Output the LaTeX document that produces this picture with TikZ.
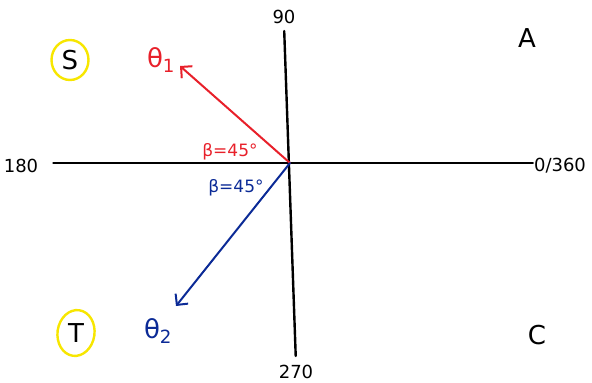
\documentclass[tikz,border=0pt]{standalone}
\usepackage{fontspec}
\setmainfont{DejaVu Sans}
\usetikzlibrary{shapes.geometric, arrows.meta, positioning}
\definecolor{penred}{HTML}{E8202A}
\definecolor{penblue}{HTML}{0B2A96}
\definecolor{marker}{HTML}{F7E600}
\tikzstyle{axis} = [line width=2.4pt, black, line cap=round]
\tikzstyle{deg}  = [font=\fontsize{18}{18}\selectfont, inner sep=1pt]
\tikzstyle{quad} = [font=\fontsize{26}{26}\selectfont, inner sep=1pt]
\tikzstyle{ring} = [ellipse, draw=marker, line width=2.4pt, minimum width=37pt, minimum height=40pt]
\tikzstyle{ray}  = [line width=2pt, line cap=round, -{Straight Barb[length=8pt,width=16pt,line width=2pt]}]
\tikzstyle{angl} = [font=\fontsize{17}{17}\selectfont, inner sep=1pt]

\begin{document}
\begin{tikzpicture}[x=1pt, y=-1pt]
  \useasboundingbox (0,0) rectangle (592,383);
  \coordinate (o) at (290,163);
  \node (d90)  [deg] at (284,17)  {90};
  \node (d180) [deg] at (21,166)  {180};
  \node (d0)   [deg] at (560,166) {0/360};
  \node (d270) [deg] at (296,372) {270};
  \node (qa) [quad] at (527,38)  {A};
  \node (qs) [quad] at (70,60)   {S};
  \node (qt) [quad] at (76,333)  {T};
  \node (qc) [quad] at (537,335) {C};
  \node (rs) [ring] at (qs) {};
  \node (rt) [ring, minimum height=46pt, rotate=-8] at (qt) {};
  \draw [axis] (d180.east |- o) ++(14,0) -- (d0.west |- o);
  \draw [axis, shorten <=6pt, shorten >=8pt] (d90.south) -- (d270.north);
  % the two angles
  \coordinate (h1) at (180,66);
  \coordinate (h2) at (176,306);
  \draw [ray, penred]  (o) -- (h1);
  \draw [ray, penblue] (o) -- (h2);
  \node (th1) [quad, text=penred]  at (161,60)  {θ\textsubscript{1}};
  \node (th2) [quad, text=penblue] at (158,331) {θ\textsubscript{2}};
  \node (b1) [angl, text=penred]  at (230,152) {β=45°};
  \node (b2) [angl, text=penblue] at (236,188) {β=45°};
\end{tikzpicture}
\end{document}
